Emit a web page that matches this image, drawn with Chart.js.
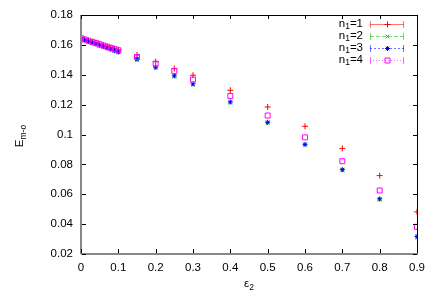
<!DOCTYPE html>
<html>
<head>
<meta charset="utf-8">
<script src="https://cdn.jsdelivr.net/npm/chart.js@4.4.0/dist/chart.umd.min.js"></script>
<style>
html, body { margin: 0; padding: 0; background: #fff; }
</style>
</head>
<body>
<canvas id="chart" width="436" height="305"></canvas>
<script>
// epsilon_2 values (x)
var eps2 = [0, 0.01, 0.02, 0.03, 0.04, 0.05, 0.06, 0.07, 0.08, 0.09, 0.1,
            0.15, 0.2, 0.25, 0.3, 0.4, 0.5, 0.6, 0.7, 0.8, 0.9];

// E_m-o for each n1
var n1_1 = [0.1645, 0.1638, 0.1630, 0.1622, 0.1615, 0.1607, 0.1599, 0.1591, 0.1583, 0.1575, 0.1567,
            0.1532, 0.1488, 0.1442, 0.1397, 0.1296, 0.1184, 0.1055, 0.0907, 0.0725, 0.0482];
var n1_2 = [0.1640, 0.1631, 0.1622, 0.1613, 0.1604, 0.1595, 0.1586, 0.1577, 0.1568, 0.1559, 0.1550,
            0.1498, 0.1444, 0.1386, 0.1332, 0.1212, 0.1076, 0.0928, 0.0760, 0.0563, 0.0310];
var n1_3 = [0.1641, 0.1632, 0.1623, 0.1614, 0.1605, 0.1596, 0.1588, 0.1579, 0.1570, 0.1561, 0.1552,
            0.1505, 0.1451, 0.1393, 0.1339, 0.1218, 0.1082, 0.0934, 0.0765, 0.0569, 0.0317];
var n1_4 = [0.1644, 0.1636, 0.1628, 0.1620, 0.1612, 0.1604, 0.1596, 0.1588, 0.1580, 0.1572, 0.1564,
            0.1519, 0.1474, 0.1424, 0.1368, 0.1258, 0.1127, 0.0981, 0.0821, 0.0625, 0.0382];

var legendNames = ["1", "2", "3", "4"];   // n_1 = ...
var xTicks = [0, 0.1, 0.2, 0.3, 0.4, 0.5, 0.6, 0.7, 0.8, 0.9];
var yTicks = [0.02, 0.04, 0.06, 0.08, 0.1, 0.12, 0.14, 0.16, 0.18];

var FONT = '"Liberation Sans", Arial, sans-serif';
Chart.defaults.font.family = FONT;
Chart.defaults.font.size = 11.5;
Chart.defaults.color = '#000';

function pts(ys) {
    var out = [];
    for (var i = 0; i < eps2.length; i++) out.push({x: eps2[i], y: ys[i]});
    return out;
}

var series = [
    {vals: n1_1, color: '#ff0000', style: 'cross',    r: 3,   dash: []},
    {vals: n1_2, color: '#00c000', style: 'crossRot', r: 2.5, dash: [4, 2]},
    {vals: n1_3, color: '#0000ff', style: 'star',     r: 2.5, dash: [2, 2]},
    {vals: n1_4, color: '#ff00ff', style: 'rect',     r: 3.5, dash: [1, 2]}
];

// gnuplot-ish frame, inward ticks, axis titles and legend
var framePlugin = {
    id: 'frame',
    afterDraw: function(chart) {
        var ctx = chart.ctx, a = chart.chartArea;
        var xs = chart.scales.x, ys = chart.scales.y;
        ctx.save();
        // border
        ctx.lineWidth = 1;
        ctx.strokeStyle = '#000';
        ctx.beginPath();
        ctx.moveTo(a.left, a.top + 0.5); ctx.lineTo(a.right, a.top + 0.5);
        ctx.moveTo(a.right + 0.5, a.top); ctx.lineTo(a.right + 0.5, a.bottom);
        ctx.stroke();
        ctx.strokeStyle = '#888';
        ctx.lineWidth = 2;
        ctx.beginPath();
        ctx.moveTo(a.left, a.top); ctx.lineTo(a.left, a.bottom);
        ctx.moveTo(a.left, a.bottom); ctx.lineTo(a.right + 1, a.bottom);
        ctx.stroke();
        // ticks
        ctx.strokeStyle = '#000';
        ctx.lineWidth = 1;
        ctx.beginPath();
        xs.ticks.forEach(function(t) {
            var px = Math.round(xs.getPixelForValue(t.value)) + 0.5;
            ctx.moveTo(px, a.bottom - 1); ctx.lineTo(px, a.bottom - 5);
            ctx.moveTo(px, a.top); ctx.lineTo(px, a.top + 4);
        });
        ys.ticks.forEach(function(t) {
            var py = Math.round(ys.getPixelForValue(t.value)) + 0.5;
            ctx.moveTo(a.left + 1, py); ctx.lineTo(a.left + 5, py);
            ctx.moveTo(a.right, py); ctx.lineTo(a.right - 4, py);
        });
        ctx.stroke();

        // x title: epsilon_2
        ctx.fillStyle = '#000';
        ctx.textBaseline = 'middle';
        ctx.font = '11.5px ' + FONT;
        var cx = (a.left + a.right) / 2;
        var w1 = ctx.measureText('ε').width;
        ctx.font = '8.5px ' + FONT;
        var w2 = ctx.measureText('2').width;
        var sx = cx - (w1 + w2) / 2;
        ctx.font = '11.5px ' + FONT;
        ctx.textAlign = 'left';
        ctx.fillText('ε', sx, 284);
        ctx.font = '8.5px ' + FONT;
        ctx.fillText('2', sx + w1, 288);

        // y title: E_m-o, rotated
        ctx.save();
        ctx.translate(20, 136);
        ctx.rotate(-Math.PI / 2);
        ctx.font = '11.5px ' + FONT;
        var e1 = ctx.measureText('E').width;
        ctx.font = '8.5px ' + FONT;
        var e2 = ctx.measureText('m-o').width;
        var ex = -(e1 + e2) / 2;
        ctx.font = '11.5px ' + FONT;
        ctx.fillText('E', ex, 0);
        ctx.font = '8.5px ' + FONT;
        ctx.fillText('m-o', ex + e1, 4);
        ctx.restore();

        // legend
        for (var i = 0; i < series.length; i++) {
            var s = series[i];
            var ly = 24 + i * 12;
            ctx.font = '11.5px ' + FONT;
            ctx.fillStyle = '#000';
            ctx.textAlign = 'right';
            ctx.fillText('=' + legendNames[i], 363, ly);
            var wEq = ctx.measureText('=' + legendNames[i]).width;
            ctx.font = '8.5px ' + FONT;
            ctx.fillText('1', 363 - wEq, ly + 3);
            var wSub = ctx.measureText('1').width;
            ctx.font = '11.5px ' + FONT;
            ctx.fillText('n', 363 - wEq - wSub, ly);

            ctx.save();
            ctx.globalAlpha = 0.55;
            ctx.strokeStyle = s.color;
            ctx.lineWidth = 1;
            ctx.setLineDash(s.dash);
            ctx.beginPath();
            ctx.moveTo(370, ly + 0.5); ctx.lineTo(404, ly + 0.5);
            ctx.stroke();
            ctx.setLineDash([]);
            ctx.beginPath();
            ctx.moveTo(370.5, ly - 3); ctx.lineTo(370.5, ly + 4);
            ctx.moveTo(403.5, ly - 3); ctx.lineTo(403.5, ly + 4);
            ctx.stroke();
            ctx.restore();
            ctx.strokeStyle = s.color;
            ctx.fillStyle = 'rgba(0,0,0,0)';
            ctx.lineWidth = 1;
            Chart.helpers.drawPoint(ctx, {pointStyle: s.style, radius: s.r, borderWidth: 1, rotation: 0}, 387.5, ly + 0.5);
        }
        ctx.restore();
    }
};

var datasets = series.map(function(s, i) {
    return {
        label: 'n1=' + legendNames[i],
        data: pts(s.vals),
        pointStyle: s.style,
        pointRadius: s.r,
        pointHoverRadius: s.r,
        pointBorderWidth: 1,
        borderColor: s.color,
        backgroundColor: 'rgba(0,0,0,0)',
        showLine: false,
        order: series.length - i
    };
});

var ctx = document.getElementById('chart').getContext('2d');
var chart = new Chart(ctx, {
    type: 'scatter',
    data: {datasets: datasets},
    plugins: [framePlugin],
    options: {
        responsive: false,
        animation: false,
        devicePixelRatio: 1,
        layout: {padding: {top: 15, right: 19, left: 0, bottom: 0}},
        plugins: {legend: {display: false}, tooltip: {enabled: false}},
        scales: {
            x: {
                type: 'linear', min: 0, max: 0.9,
                grid: {display: false, drawTicks: false},
                border: {display: false},
                afterBuildTicks: function(scale) {
                    scale.ticks = xTicks.map(function(v) { return {value: v}; });
                },
                afterFit: function(scale) { scale.height = 51; },
                ticks: {
                    padding: 7, maxRotation: 0, autoSkip: false,
                    callback: function(v) { return String(+v.toFixed(2)); }
                }
            },
            y: {
                type: 'linear', min: 0.02, max: 0.18,
                grid: {display: false, drawTicks: false},
                border: {display: false},
                afterBuildTicks: function(scale) {
                    scale.ticks = yTicks.map(function(v) { return {value: v}; });
                },
                afterFit: function(scale) { scale.width = 81; },
                ticks: {
                    padding: 8, autoSkip: false,
                    callback: function(v) { return String(+v.toFixed(2)); }
                }
            }
        }
    }
});
</script>
</body>
</html>
